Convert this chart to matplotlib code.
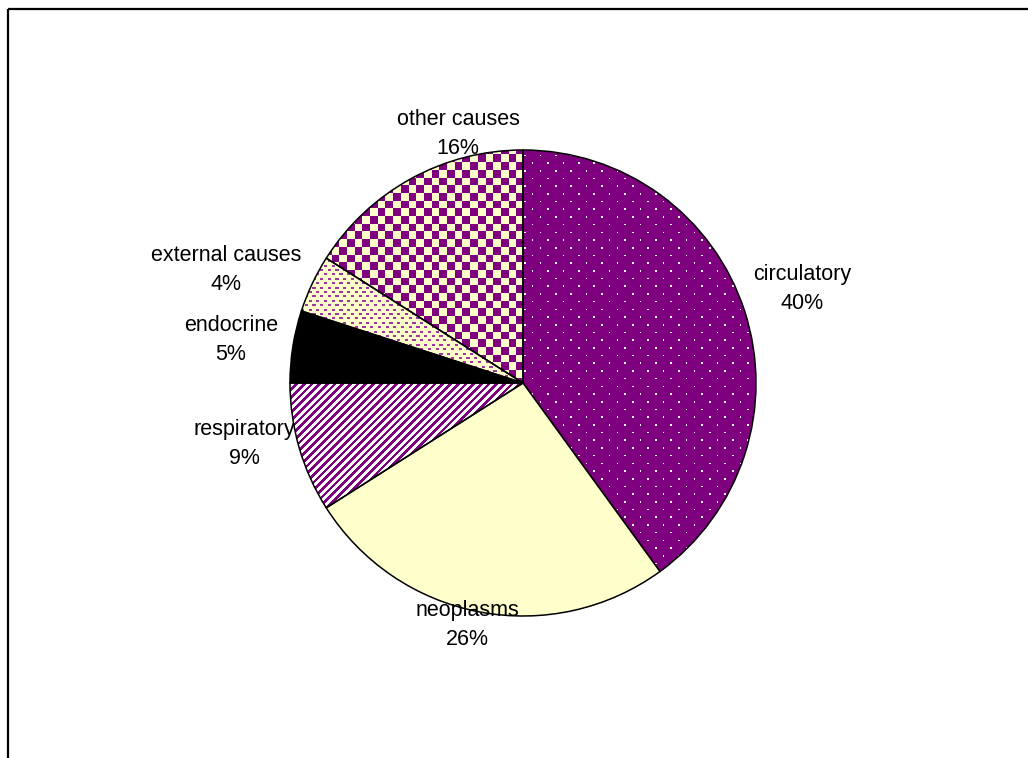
import matplotlib
matplotlib.use("Agg")
import matplotlib.pyplot as plt
import numpy as np
from matplotlib.lines import Line2D

causes = ["circulatory", "neoplasms", "respiratory", "endocrine",
          "external causes", "other causes"]
shares = [40, 26, 9, 5, 4, 16]

W, H = 1028, 758
PURPLE = np.array([0.5, 0.0, 0.5])
CREAM = np.array([1.0, 1.0, 0.8])
WHITE = np.array([1.0, 1.0, 1.0])

# label block centres in pixel coordinates (from the top-left corner)
label_pos = [(802, 289), (467, 625), (244, 444), (231, 340), (226, 270), (458, 134)]

plt.rcParams["font.family"] = ["Liberation Sans", "DejaVu Sans"]

yy, xx = np.mgrid[0:H, 0:W].astype(float)


def two_tone(mask, fg, bg):
    img = np.empty((H, W, 3))
    img[:] = bg
    img[mask] = fg
    return img


def dots():
    row = np.floor(yy / 7.7)
    off = (row % 2) * 7.7
    m = ((yy % 7.7) < 1.6) & (((xx - off) % 15.4) < 1.6)
    return two_tone(m, WHITE, PURPLE)


def stripes():
    m = ((xx + yy) % 7.7) < 3.7
    return two_tone(m, PURPLE, WHITE)


def dashes():
    row = np.floor(yy / 4.4)
    off = (row % 2) * 3.85
    m = ((yy % 4.4) < 2) & (((xx - off) % 7.7) < 3.2)
    return two_tone(m, np.array([0.62, 0.22, 0.62]), CREAM)


def checker():
    m = ((np.floor(xx / 7.7) + np.floor(yy / 7.7)) % 2) == 0
    return two_tone(m, PURPLE, CREAM)


# functions give a texture, anything else is a plain fill colour
fills = [dots, CREAM, stripes, "black", dashes, checker]

fig = plt.figure(figsize=(W / 100, H / 100), dpi=100)
ax = fig.add_axes([0, 0, 1, 1])

wedges, _ = ax.pie(shares, center=(523, H - 383), radius=233, startangle=90,
                   counterclock=False,
                   wedgeprops=dict(edgecolor="black", linewidth=1.1))

for w, f in zip(wedges, fills):
    w.set_zorder(2)
    if callable(f):
        w.set_facecolor("none")
        im = ax.imshow(f(), extent=(0, W, 0, H), origin="upper",
                       interpolation="nearest", zorder=1, aspect="auto")
        im.set_clip_path(w)
    else:
        w.set_facecolor(f)

for name, pct, (px, py) in zip(causes, shares, label_pos):
    ax.text(px, H - py, f"{name}\n{pct}%", ha="center", va="center",
            fontsize=15.5, linespacing=1.45)

ax.set_xlim(0, W)
ax.set_ylim(0, H)
ax.axis("off")

# chart area border: only the top and left edges are visible
fig.add_artist(Line2D([7.5 / W, 1], [1 - 8.5 / H, 1 - 8.5 / H],
                      transform=fig.transFigure, color="black", lw=1.6,
                      solid_capstyle="butt"))
fig.add_artist(Line2D([7.5 / W, 7.5 / W], [0, 1 - 8.5 / H],
                      transform=fig.transFigure, color="black", lw=1.6,
                      solid_capstyle="butt"))

fig.savefig("out.png", dpi=100)
